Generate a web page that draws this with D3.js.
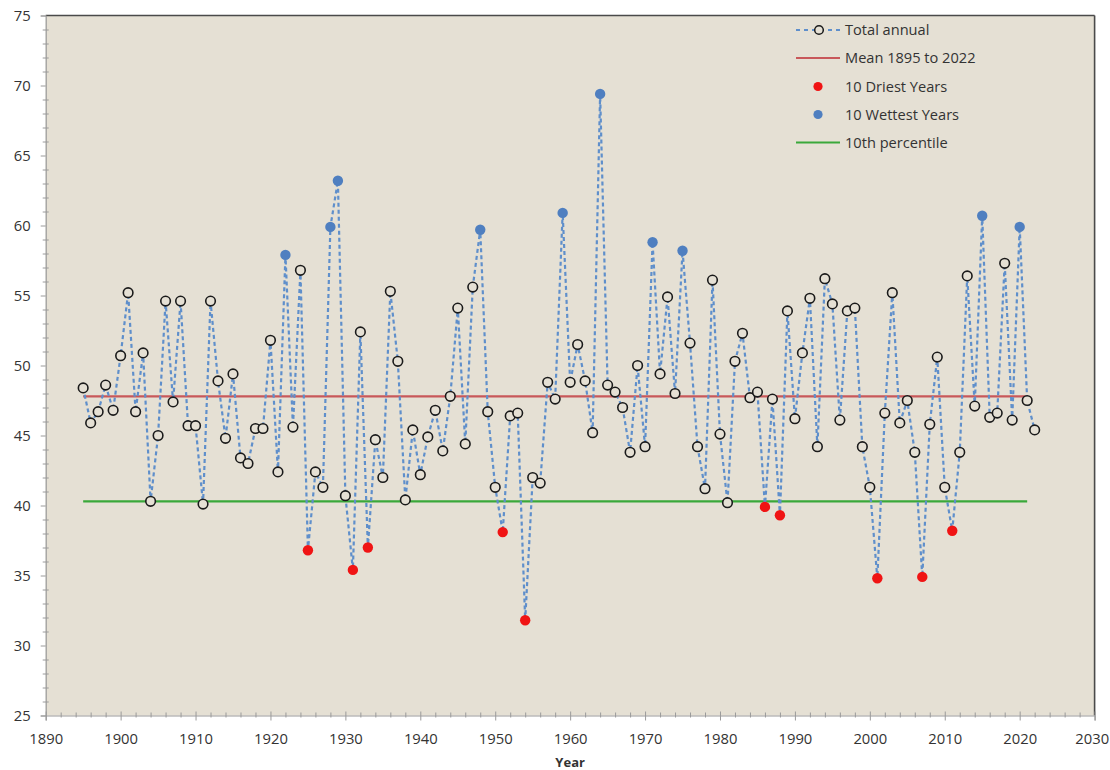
<!DOCTYPE html>
<html>
<head>
<meta charset="utf-8">
<script src="https://cdn.jsdelivr.net/npm/d3@7"></script>
<style>
  html, body { margin: 0; padding: 0; background: #ffffff; }
  svg { display: block; }
  text { font-family: "Open Sans", "Liberation Sans", sans-serif; fill: #333; }
</style>
</head>
<body>
<svg id="chart" width="1110" height="770"></svg>
<script>
// ---------- data ----------
const years = [
  1895,1896,1897,1898,1899,1900,1901,1902,1903,1904,
  1905,1906,1907,1908,1909,1910,1911,1912,1913,1914,
  1915,1916,1917,1918,1919,1920,1921,1922,1923,1924,
  1925,1926,1927,1928,1929,1930,1931,1932,1933,1934,
  1935,1936,1937,1938,1939,1940,1941,1942,1943,1944,
  1945,1946,1947,1948,1949,1950,1951,1952,1953,1954,
  1955,1956,1957,1958,1959,1960,1961,1962,1963,1964,
  1965,1966,1967,1968,1969,1970,1971,1972,1973,1974,
  1975,1976,1977,1978,1979,1980,1981,1982,1983,1984,
  1985,1986,1987,1988,1989,1990,1991,1992,1993,1994,
  1995,1996,1997,1998,1999,2000,2001,2002,2003,2004,
  2005,2006,2007,2008,2009,2010,2011,2012,2013,2014,
  2015,2016,2017,2018,2019,2020,2021,2022
];
const totalAnnual = [
  48.4,45.9,46.7,48.6,46.8,50.7,55.2,46.7,50.9,40.3,
  45.0,54.6,47.4,54.6,45.7,45.7,40.1,54.6,48.9,44.8,
  49.4,43.4,43.0,45.5,45.5,51.8,42.4,57.9,45.6,56.8,
  36.8,42.4,41.3,59.9,63.2,40.7,35.4,52.4,37.0,44.7,
  42.0,55.3,50.3,40.4,45.4,42.2,44.9,46.8,43.9,47.8,
  54.1,44.4,55.6,59.7,46.7,41.3,38.1,46.4,46.6,31.8,
  42.0,41.6,48.8,47.6,60.9,48.8,51.5,48.9,45.2,69.4,
  48.6,48.1,47.0,43.8,50.0,44.2,58.8,49.4,54.9,48.0,
  58.2,51.6,44.2,41.2,56.1,45.1,40.2,50.3,52.3,47.7,
  48.1,39.9,47.6,39.3,53.9,46.2,50.9,54.8,44.2,56.2,
  54.4,46.1,53.9,54.1,44.2,41.3,34.8,46.6,55.2,45.9,
  47.5,43.8,34.9,45.8,50.6,41.3,38.2,43.8,56.4,47.1,
  60.7,46.3,46.6,57.3,46.1,59.9,47.5,45.4
];
const driestYears  = [1925,1931,1933,1951,1954,1986,1988,2001,2007,2011];
const wettestYears = [1922,1928,1929,1948,1959,1964,1971,1975,2015,2020];
const meanValue = 47.8;
const meanSpan = [1895, 2021];
const p10Value = 40.3;
const p10Span = [1895, 2021];
const xTicks = [1890,1900,1910,1920,1930,1940,1950,1960,1970,1980,1990,2000,2010,2020,2030];
const yTicks = [25,30,35,40,45,50,55,60,65,70,75];
const legendLabels = ["Total annual","Mean 1895 to 2022","10 Driest Years","10 Wettest Years","10th percentile"];
const xTitle = "Year";

// ---------- layout ----------
const L = 45.7, R = 1094.6, T = 15.5, B = 715.5;
const bg = "#e5e0d4";
const svg = d3.select("#chart");

const x = d3.scaleLinear().domain([1890, 2030]).range([L, R]);
const y = d3.scaleLinear().domain([25, 75]).range([B, T]);

// plot background
svg.append("rect").attr("x", L).attr("y", T).attr("width", R - L).attr("height", B - T)
  .attr("fill", bg);

// top & right border (dark)
svg.append("line").attr("x1", L).attr("x2", R).attr("y1", T).attr("y2", T)
  .attr("stroke", "#4a4a4a").attr("stroke-width", 1.6);
svg.append("line").attr("x1", R).attr("x2", R).attr("y1", T).attr("y2", B)
  .attr("stroke", "#4a4a4a").attr("stroke-width", 1.6);

// ---------- axes ----------
const axisColor = "#9a9a9a";
const tickFont = 14.8;
// x minor ticks every 2 years
const xMinor = d3.range(1890, 2031, 2).filter(v => v % 10 !== 0);
const xAxisMinor = d3.axisBottom(x).tickValues(xMinor).tickSize(3).tickFormat("");
const gxm = svg.append("g").attr("transform", `translate(0,${B})`).call(xAxisMinor);
gxm.selectAll(".tick line").attr("y1", -3).attr("y2", 2).attr("stroke", axisColor);
gxm.select(".domain").remove();

const xAxis = d3.axisBottom(x).tickValues(xTicks).tickSize(5).tickFormat(d3.format("d"));
const gx = svg.append("g").attr("transform", `translate(0,${B})`).call(xAxis);
gx.select(".domain").attr("stroke", axisColor).attr("stroke-width", 1.2);
gx.selectAll(".tick line").attr("y1", -4).attr("y2", 5).attr("stroke", axisColor);
gx.selectAll(".tick text").attr("y", 18).attr("font-size", tickFont).attr("fill", "#2a2a2a")
  .attr("font-family", "'Open Sans', sans-serif");
// keep the last label inside the page
gx.selectAll(".tick text").filter(d => d === 2030)
  .attr("text-anchor", "end").attr("x", 14);

// y minor ticks every 1
const yMinor = d3.range(25, 76, 1).filter(v => v % 5 !== 0);
const yAxisMinor = d3.axisLeft(y).tickValues(yMinor).tickSize(3).tickFormat("");
const gym = svg.append("g").attr("transform", `translate(${L},0)`).call(yAxisMinor);
gym.selectAll(".tick line").attr("x1", -3).attr("x2", 3).attr("stroke", axisColor);
gym.select(".domain").remove();

const yAxis = d3.axisLeft(y).tickValues(yTicks).tickSize(5).tickFormat(d3.format("d"));
const gy = svg.append("g").attr("transform", `translate(${L},0)`).call(yAxis);
gy.select(".domain").attr("stroke", axisColor).attr("stroke-width", 1.2);
gy.selectAll(".tick line").attr("stroke", axisColor);
gy.selectAll(".tick text").attr("x", -15).attr("font-size", tickFont).attr("fill", "#2a2a2a")
  .attr("font-family", "'Open Sans', sans-serif");

svg.append("text").attr("x", (L + R) / 2).attr("y", 767)
  .attr("text-anchor", "middle").attr("font-size", 13).attr("font-weight", "bold")
  .attr("fill", "#222").text(xTitle);

// ---------- reference lines ----------
const meanColor = "#c8585a";
const p10Color = "#3aa83a";
svg.append("line")
  .attr("x1", x(meanSpan[0])).attr("x2", x(meanSpan[1]))
  .attr("y1", y(meanValue)).attr("y2", y(meanValue))
  .attr("stroke", meanColor).attr("stroke-width", 2.2);
svg.append("line")
  .attr("x1", x(p10Span[0])).attr("x2", x(p10Span[1]))
  .attr("y1", y(p10Value)).attr("y2", y(p10Value))
  .attr("stroke", p10Color).attr("stroke-width", 2.2);

// ---------- series ----------
const data = years.map((yr, i) => ({ year: yr, value: totalAnnual[i] }));
const lineColor = "#5f8fcb";
const line = d3.line().x(d => x(d.year)).y(d => y(d.value));
svg.append("path").datum(data).attr("d", line)
  .attr("fill", "none").attr("stroke", lineColor).attr("stroke-width", 2.2)
  .attr("stroke-dasharray", "4,3");

const dryColor = "#f01414";
const wetColor = "#4f7fc0";
const special = new Set([...driestYears, ...wettestYears]);

svg.append("g").selectAll("circle")
  .data(data.filter(d => !special.has(d.year)))
  .join("circle")
  .attr("cx", d => x(d.year)).attr("cy", d => y(d.value)).attr("r", 4.8)
  .attr("fill", bg).attr("stroke", "#1a1a1a").attr("stroke-width", 1.6);

svg.append("g").selectAll("circle")
  .data(data.filter(d => driestYears.includes(d.year)))
  .join("circle")
  .attr("cx", d => x(d.year)).attr("cy", d => y(d.value)).attr("r", 5.2)
  .attr("fill", dryColor);

svg.append("g").selectAll("circle")
  .data(data.filter(d => wettestYears.includes(d.year)))
  .join("circle")
  .attr("cx", d => x(d.year)).attr("cy", d => y(d.value)).attr("r", 5.2)
  .attr("fill", wetColor);

// ---------- legend ----------
const lg = svg.append("g");
const lx0 = 796, lx1 = 840, ltx = 845;
const rowsY = [30, 58, 86.5, 114.5, 142.5];
rowsY.forEach((ry, i) => {
  const g = lg.append("g");
  if (i === 0) {
    g.append("line").attr("x1", lx0).attr("x2", lx1).attr("y1", ry).attr("y2", ry)
      .attr("stroke", lineColor).attr("stroke-width", 2).attr("stroke-dasharray", "4,4");
    g.append("circle").attr("cx", (lx0 + lx1) / 2 + 1).attr("cy", ry).attr("r", 4.3)
      .attr("fill", bg).attr("stroke", "#1a1a1a").attr("stroke-width", 1.5);
  } else if (i === 1) {
    g.append("line").attr("x1", lx0).attr("x2", lx1).attr("y1", ry).attr("y2", ry)
      .attr("stroke", meanColor).attr("stroke-width", 2.2);
  } else if (i === 2) {
    g.append("circle").attr("cx", 818).attr("cy", ry).attr("r", 4.6).attr("fill", dryColor);
  } else if (i === 3) {
    g.append("circle").attr("cx", 818).attr("cy", ry).attr("r", 4.6).attr("fill", wetColor);
  } else {
    g.append("line").attr("x1", lx0).attr("x2", lx1).attr("y1", ry).attr("y2", ry)
      .attr("stroke", p10Color).attr("stroke-width", 2.2);
  }
  g.append("text").attr("x", ltx).attr("y", ry).attr("dy", "0.35em")
    .attr("font-size", 14.6).attr("fill", "#222").text(legendLabels[i]);
});
</script>
</body>
</html>
